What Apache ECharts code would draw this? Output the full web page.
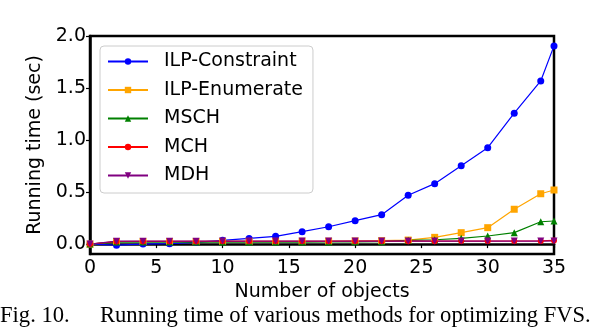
<!DOCTYPE html>
<html>
<head>
<meta charset="utf-8">
<script src="https://cdn.jsdelivr.net/npm/echarts@6/dist/echarts.min.js"></script>
<style>
  html, body { margin: 0; padding: 0; background: #fff; }
  #chart { width: 594px; height: 332px; }
</style>
</head>
<body>
<div id="chart"></div>
<script>
// number of objects
var objects = [0, 2, 4, 6, 8, 10, 12, 14, 16, 18, 20, 22, 24, 26, 28, 30, 32, 34, 35]
// running time (sec)
var ilpConstraint = [0, -0.01, 0, 0.004, 0.017, 0.036, 0.055, 0.075, 0.12, 0.167, 0.225, 0.283, 0.469, 0.581, 0.754, 0.927, 1.258, 1.568, 1.905]
var ilpEnumerate = [0, 0.025, 0.025, 0.025, 0.025, 0.026, 0.026, 0.026, 0.027, 0.028, 0.03, 0.033, 0.039, 0.065, 0.11, 0.158, 0.335, 0.484, 0.52]
var msch = [0, 0.02, 0.02, 0.02, 0.02, 0.02, 0.02, 0.02, 0.02, 0.021, 0.022, 0.023, 0.036, 0.042, 0.056, 0.078, 0.11, 0.215, 0.222]
var mch = [0, 0.025, 0.026, 0.026, 0.026, 0.027, 0.027, 0.027, 0.027, 0.027, 0.028, 0.028, 0.028, 0.028, 0.029, 0.029, 0.03, 0.031, 0.035]
var mdh = [0, 0.028, 0.028, 0.028, 0.028, 0.029, 0.029, 0.029, 0.029, 0.029, 0.029, 0.029, 0.029, 0.029, 0.029, 0.029, 0.029, 0.029, 0.03]
var yTicks = [0, 0.5, 1.0, 1.5, 2.0]

var font = 'DejaVu Sans'
var chart = echarts.init(document.getElementById('chart'))

function pairs(ys) {
  return objects.map(function(x, i) { return [x, ys[i]] })
}

function makeSeries(name, ys, color, symbol, size, rotate) {
  return {
    name: name,
    type: 'line',
    data: pairs(ys),
    symbol: symbol,
    symbolSize: size,
    symbolRotate: rotate || 0,
    lineStyle: { color: color, width: 1.2 },
    itemStyle: { color: color },
    animation: false
  }
}

chart.setOption({
  animation: false,
  grid: {
    left: 90, right: 40, top: 36, bottom: 78,
    show: true, borderColor: '#000', borderWidth: 2.5
  },
  legend: {
    left: 100, top: 46,
    orient: 'vertical',
    itemWidth: 40, itemHeight: 8, itemGap: 9.5,
    padding: [6, 10, 8, 7],
    borderColor: '#cccccc', borderWidth: 1, borderRadius: 4,
    backgroundColor: 'rgba(255,255,255,0.8)',
    textStyle: { fontFamily: font, fontSize: 19, color: '#000', lineHeight: 19, padding: [0, 0, 0, 11] }
  },
  xAxis: {
    type: 'value', min: 0, max: 35, interval: 5,
    name: 'Number of objects', nameLocation: 'middle', nameGap: 23,
    nameTextStyle: { fontFamily: font, fontSize: 19, color: '#000' },
    axisLine: { show: true, lineStyle: { color: '#000', width: 2.5 } },
    axisTick: { show: true, inside: false, length: 4, lineStyle: { color: '#000', width: 1.2 } },
    axisLabel: { fontFamily: font, fontSize: 19, color: '#000', margin: 5 },
    splitLine: { show: false }
  },
  yAxis: {
    type: 'value', min: -0.095, max: 2.0,
    name: 'Running time (sec)', nameLocation: 'middle', nameGap: 27,
    nameTextStyle: { fontFamily: font, fontSize: 19, color: '#000' },
    axisLine: { show: true, lineStyle: { color: '#000', width: 2.5 } },
    axisTick: { show: true, length: 4, customValues: yTicks, lineStyle: { color: '#000', width: 1.2 } },
    axisLabel: {
      fontFamily: font, fontSize: 19, color: '#000', margin: 4,
      customValues: yTicks,
      formatter: function(v) { return v.toFixed(1) }
    },
    splitLine: { show: false }
  },
  series: [
    makeSeries('ILP-Constraint', ilpConstraint, '#0000ff', 'circle', 7),
    makeSeries('ILP-Enumerate', ilpEnumerate, '#ffa500', 'rect', 7),
    makeSeries('MSCH', msch, '#008000', 'triangle', 7),
    makeSeries('MCH', mch, '#ff0000', 'circle', 6),
    makeSeries('MDH', mdh, '#800080', 'triangle', 7, 180)
  ],
  graphic: [
    {
      type: 'text', left: 0, top: -17,
      style: { text: 'ical.', font: '22px "Liberation Serif"', fill: '#000' }
    },
    {
      type: 'text', left: 0, top: 305,
      style: { text: 'Fig. 10.', font: '22.6px "Liberation Serif"', fill: '#000' }
    },
    {
      type: 'text', left: 100, top: 305,
      style: { text: 'Running time of various methods for optimizing FVS.', font: '22.6px "Liberation Serif"', fill: '#000' }
    }
  ]
})
</script>
</body>
</html>
